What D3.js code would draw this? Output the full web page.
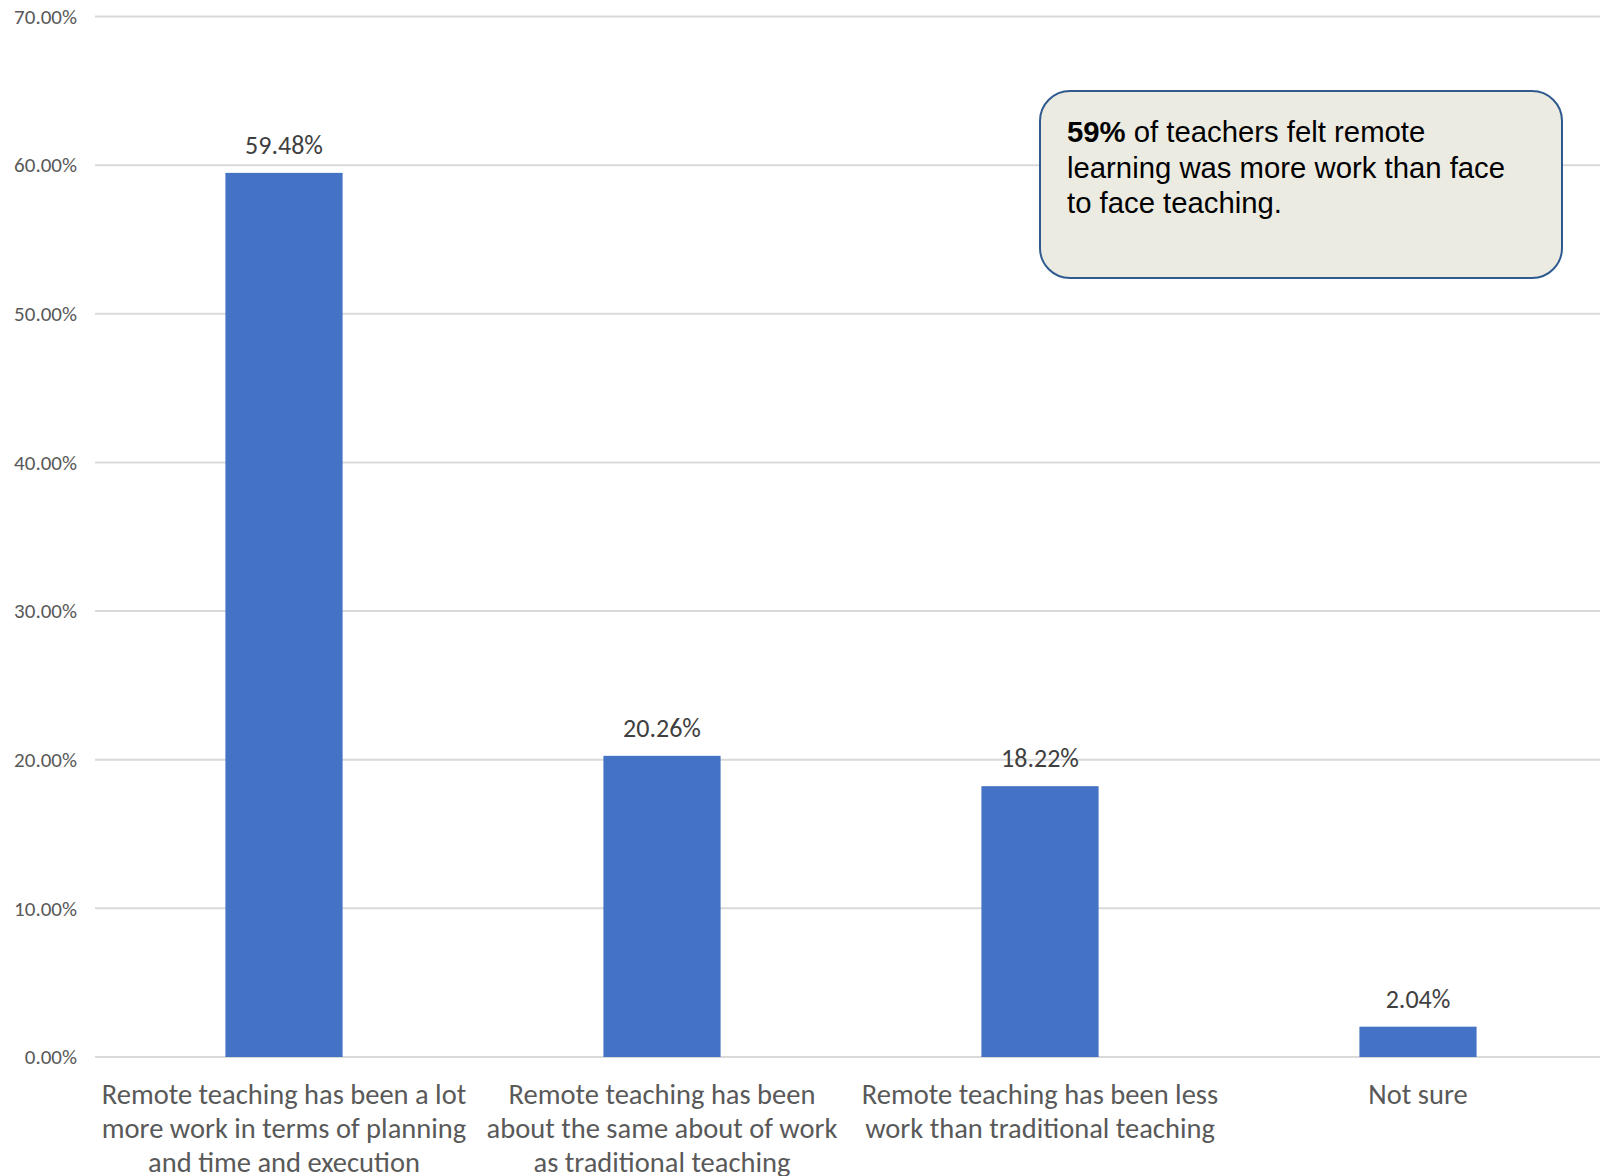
<!DOCTYPE html>
<html>
<head>
<meta charset="utf-8">
<script src="https://cdn.jsdelivr.net/npm/d3@7/dist/d3.min.js"></script>
<style>
  html, body { margin: 0; padding: 0; background: #ffffff; }
  svg { display: block; }
</style>
</head>
<body>
<svg id="chart" width="1600" height="1176"></svg>
<script>
// ---- data ----
const categories = [
  "Remote teaching has been a lot\nmore work in terms of planning\nand time and execution",
  "Remote teaching has been\nabout the same about of work\nas traditional teaching",
  "Remote teaching has been less\nwork than traditional teaching",
  "Not sure"
];
const values = [59.48, 20.26, 18.22, 2.04];
const yTicks = [0, 10, 20, 30, 40, 50, 60, 70];
const noteBold = "59%";
const noteLines = [" of teachers felt remote", "learning was more work than face", "to face teaching."];

// ---- layout ----
const svg = d3.select("#chart");
const W = 1600, H = 1176;
const plot = { left: 95, right: 1607, top: 16.5, bottom: 1057 };
const labelFont = "Carlito, Lato, 'Open Sans', sans-serif";

const x = d3.scaleBand()
  .domain(d3.range(categories.length))
  .range([plot.left, plot.right])
  .paddingInner(0.69)
  .paddingOuter(0.345);

const y = d3.scaleLinear()
  .domain([0, 70])
  .range([plot.bottom, plot.top]);

// gridlines
svg.append("g")
  .selectAll("line")
  .data(yTicks)
  .join("line")
  .attr("x1", plot.left)
  .attr("x2", W)
  .attr("y1", d => y(d))
  .attr("y2", d => y(d))
  .attr("stroke", "#d9d9d9")
  .attr("stroke-width", 2);

// y axis labels
const yAxis = d3.axisLeft(y)
  .tickValues(yTicks)
  .tickFormat(d => d3.format(".2f")(d) + "%")
  .tickSize(0)
  .tickPadding(0);
const yg = svg.append("g")
  .attr("transform", `translate(77,0)`)
  .call(yAxis);
yg.select(".domain").remove();
yg.selectAll("text")
  .attr("fill", "#595959")
  .style("font-family", labelFont)
  .style("font-size", "21px");

// bars
svg.append("g")
  .selectAll("rect")
  .data(values)
  .join("rect")
  .attr("x", (d, i) => x(i))
  .attr("width", x.bandwidth())
  .attr("y", d => y(d))
  .attr("height", d => y(0) - y(d))
  .attr("fill", "#4472c4");

// value labels
svg.append("g")
  .selectAll("text")
  .data(values)
  .join("text")
  .attr("x", (d, i) => x(i) + x.bandwidth() / 2)
  .attr("y", d => y(d) - 19)
  .attr("text-anchor", "middle")
  .attr("fill", "#404040")
  .style("font-family", labelFont)
  .style("font-size", "26px")
  .text(d => d3.format(".2f")(d) + "%");

// category labels
const cat = svg.append("g")
  .selectAll("text")
  .data(categories)
  .join("text")
  .attr("x", (d, i) => x(i) + x.bandwidth() / 2)
  .attr("y", y(0) + 47)
  .attr("text-anchor", "middle")
  .attr("fill", "#595959")
  .style("font-family", labelFont)
  .style("font-size", "28.5px");
cat.selectAll("tspan")
  .data(d => d.split("\n"))
  .join("tspan")
  .attr("x", function () { return d3.select(this.parentNode).attr("x"); })
  .attr("dy", (d, i) => i === 0 ? 0 : 34)
  .text(d => d);

// annotation box
const box = { x: 1040, y: 91, w: 522, h: 187, r: 30 };
svg.append("rect")
  .attr("x", box.x).attr("y", box.y)
  .attr("width", box.w).attr("height", box.h)
  .attr("rx", box.r).attr("ry", box.r)
  .attr("fill", "#ecebe1")
  .attr("stroke", "#2f5a8f")
  .attr("stroke-width", 2);

const note = svg.append("g")
  .style("font-family", "'Liberation Sans', Arial, sans-serif")
  .style("font-size", "29.3px")
  .attr("fill", "#000");
const t1 = note.append("text").attr("x", box.x + 27).attr("y", 142);
t1.append("tspan").attr("font-weight", "bold").text(noteBold);
t1.append("tspan").text(noteLines[0]);
note.append("text").attr("x", box.x + 27).attr("y", 177.5).text(noteLines[1]);
note.append("text").attr("x", box.x + 27).attr("y", 213).text(noteLines[2]);
</script>
</body>
</html>
